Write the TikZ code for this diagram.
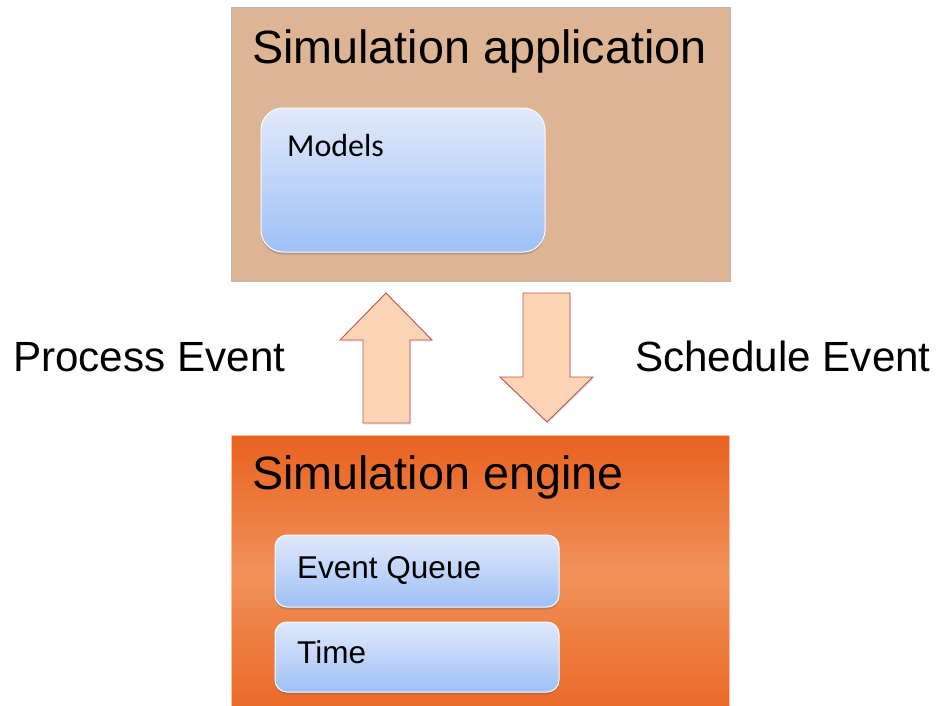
\documentclass[tikz,border=0pt]{standalone}
\usepackage{fontspec}
\setmainfont{Liberation Sans}
\newfontfamily\calibrifont{Carlito}
\usetikzlibrary{shadows}
\definecolor{appfill}{HTML}{DDB594}
\definecolor{appline}{HTML}{BDB7B2}
\definecolor{engtop}{HTML}{E9611F}
\definecolor{engmid}{HTML}{F0915A}
\definecolor{engbot}{HTML}{EA6826}
\definecolor{engline}{HTML}{F0C4A2}
\definecolor{boxtop}{HTML}{E1E9FB}
\definecolor{boxbot}{HTML}{9EC0F6}
\definecolor{arrfill}{HTML}{FAD4B5}
\definecolor{arrline}{HTML}{C0504D}
\tikzset{
  layer/.style={inner sep=0pt, line width=1pt},
  part/.style={inner sep=0pt, rounded corners=#1, draw=white!85!boxtop, line width=1pt,
    top color=boxtop, bottom color=boxbot,
    drop shadow={shadow xshift=0pt, shadow yshift=-2.5pt, opacity=0.35, fill=black!60}},
  flowarrow/.style={fill=arrfill, draw=arrline, line width=0.9pt, line join=miter,
    drop shadow={shadow xshift=1pt, shadow yshift=-1.5pt, opacity=0.2}},
  title/.style={anchor=base west, inner sep=0pt, font=\fontsize{46.7}{50}\selectfont},
  label/.style={anchor=base west, inner sep=0pt, font=\fontsize{42.2}{46}\selectfont},
  item/.style={anchor=base west, inner sep=0pt, font=\fontsize{31.5}{34}\selectfont},
}
\begin{document}
\begin{tikzpicture}[x=1pt, y=-1pt]
\useasboundingbox (0,0) rectangle (938,705);

% application layer
\path[layer, draw=appline, fill=appfill] (231,7) rectangle (730,281);
\node[title] (apptitle) at (252,63) {Simulation application};
\path[part=22pt] (261,108) rectangle (545,252);
\node[anchor=base west, inner sep=0pt, font=\calibrifont\fontsize{32}{34}\selectfont] (models) at (287,156) {Models};

% engine layer
\path[layer, draw=engline, top color=engtop, bottom color=engbot, middle color=engmid]
  (231,435) rectangle (729,712);
\node[title] (engtitle) at (252,489) {Simulation engine};
\path[part=12pt] (275,535) rectangle (559,607);
\node[item] (queue) at (297,578) {Event Queue};
\path[part=12pt] (275,622) rectangle (559,692);
\node[item] (time) at (297,663) {Time};

% flow between the layers
\path[flowarrow] (363,423) -- (363,340) -- (340,340) -- (386,293) -- (432,340)
  -- (410,340) -- (410,423) -- cycle;
\path[flowarrow] (523,293) -- (570,293) -- (570,377) -- (593,377) -- (547,422)
  -- (500,377) -- (523,377) -- cycle;

\node[label] (process) at (13,371) {Process Event};
\node[label] (schedule) at (635,371) {Schedule Event};
\end{tikzpicture}
\end{document}
